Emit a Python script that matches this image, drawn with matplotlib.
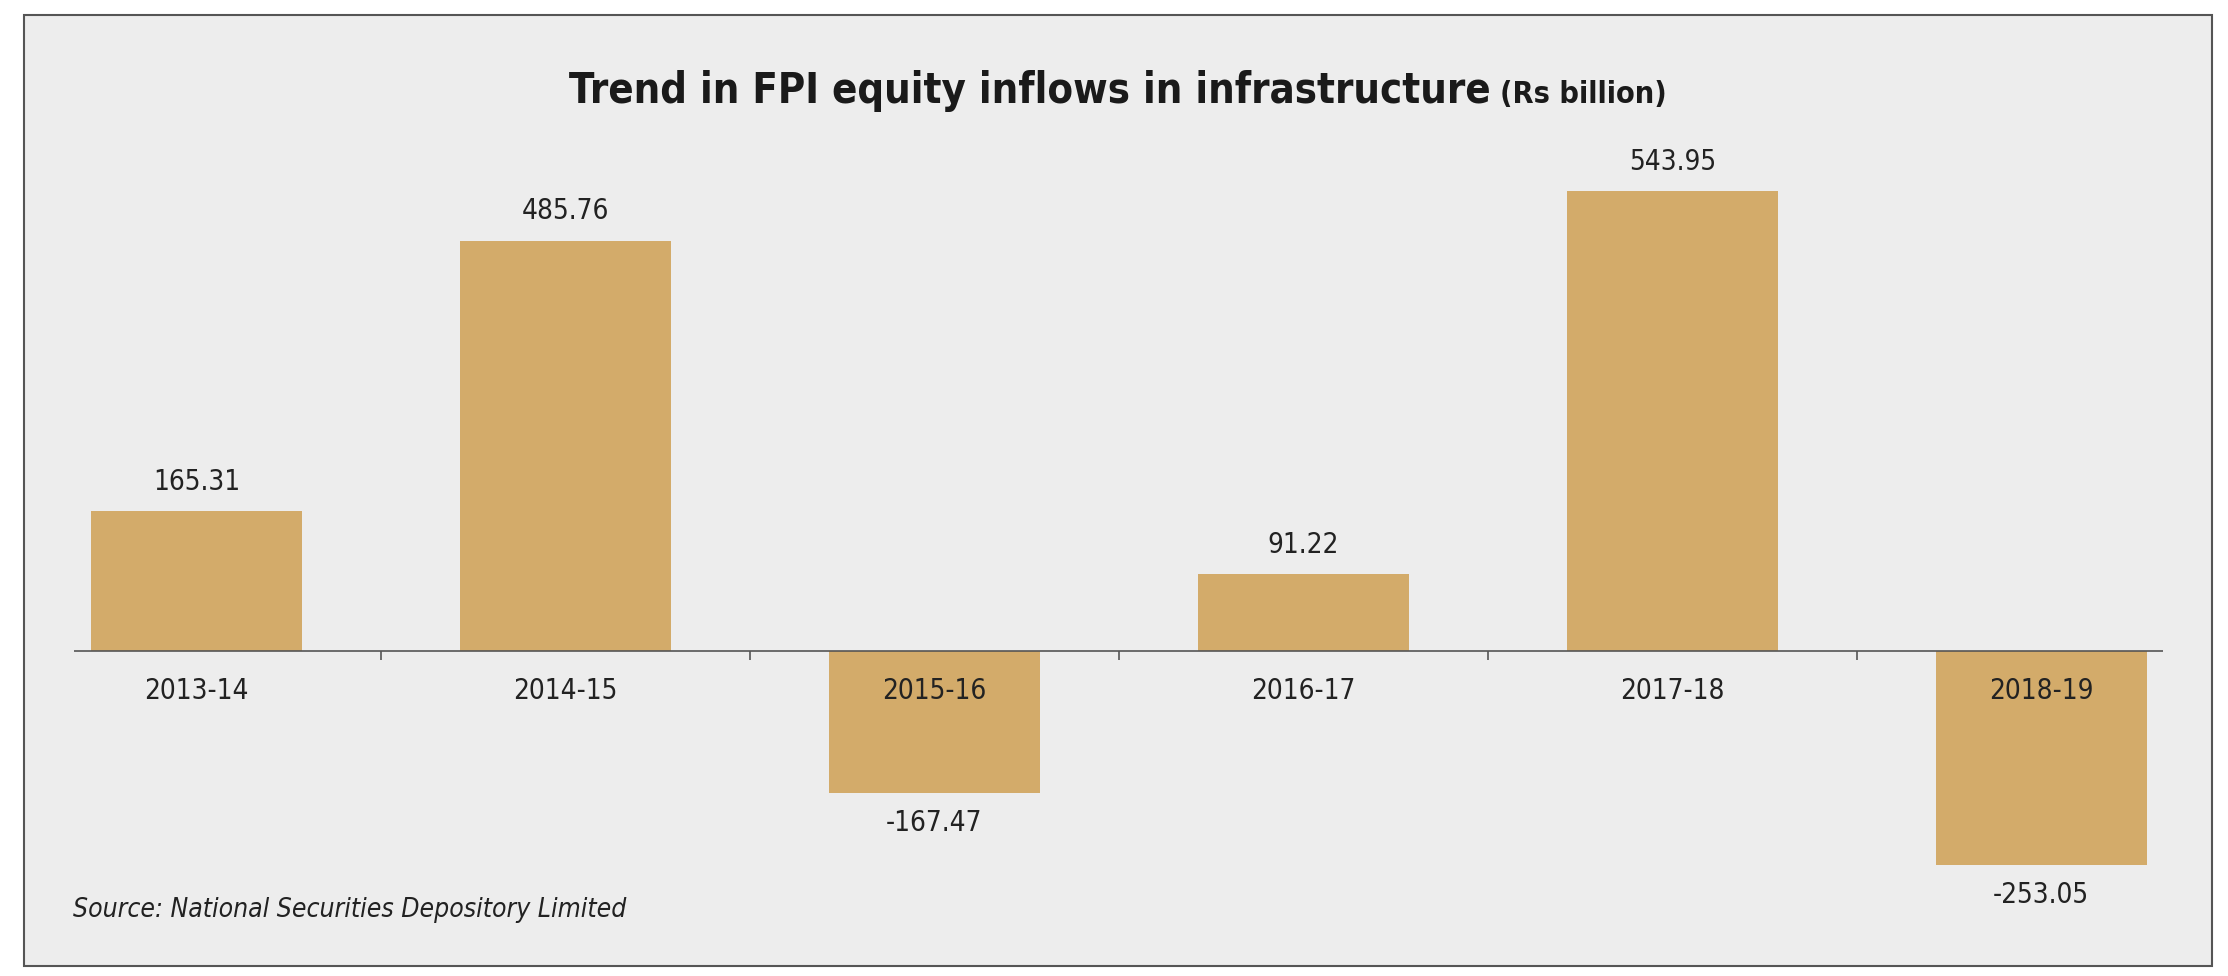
import matplotlib.pyplot as plt
from matplotlib.patches import Rectangle

years = ["2013-14", "2014-15", "2015-16", "2016-17", "2017-18", "2018-19"]
inflows = [165.31, 485.76, -167.47, 91.22, 543.95, -253.05]

title_main = "Trend in FPI equity inflows in infrastructure"
title_unit = "(Rs billion)"
source_note = "Source: National Securities Depository Limited"

W, H = 2228, 976
bar_color = "#D3AB6A"
bg_color = "#EDEDED"
narrow = ["DejaVu Sans"]

fig = plt.figure(figsize=(W / 100, H / 100), dpi=100)
fig.patch.set_facecolor("white")

# grey panel with a dark border
fig.patches.append(Rectangle((24 / W, 1 - 966 / H), (2212 - 24) / W, (966 - 15) / H,
                             transform=fig.transFigure, facecolor=bg_color,
                             edgecolor="#555555", linewidth=1.5, zorder=-1))

ax = fig.add_axes([74 / W, 1 - 904.5 / H, (2163 - 74) / W, 760.5 / H])
ax.set_facecolor("none")
ax.set_xlim(-0.332, 5.33)
ax.set_ylim(-300, 600)
for s in ax.spines.values():
    s.set_visible(False)
ax.set_xticks([])
ax.set_yticks([])

x = list(range(len(years)))
ax.bar(x, inflows, width=0.572, color=bar_color, zorder=2)
ax.axhline(0, color="#555555", linewidth=1.2, zorder=3)
ax.vlines([i + 0.5 for i in x[:-1]], -10.6, 0, color="#555555", linewidth=1.2, zorder=3)

for i, (yr, v) in enumerate(zip(years, inflows)):
    ax.annotate(yr, (i, 0), xytext=(0, -29), textcoords="offset points",
                ha="center", va="center", fontsize=20, family=narrow, fontstretch="condensed",
                color="#222222", zorder=4)
    off = 21 if v > 0 else -22
    ax.annotate(f"{v:.2f}", (i, v), xytext=(0, off), textcoords="offset points",
                ha="center", va="center", fontsize=20, family=narrow, fontstretch="condensed",
                color="#222222", zorder=4)

# title in two sizes, centred together on the panel
t1 = fig.text(0, 1 - 103 / H, title_main, fontsize=30, fontweight="heavy",
              family=narrow, fontstretch="condensed", color="#1a1a1a",
              ha="left", va="baseline")
t2 = fig.text(0, 1 - 103 / H, title_unit, fontsize=22, fontweight="heavy",
              family=narrow, fontstretch="condensed", color="#1a1a1a",
              ha="left", va="baseline")
fig.canvas.draw()
r = fig.canvas.get_renderer()
w1 = t1.get_window_extent(r).width
w2 = t2.get_window_extent(r).width
gap = 10
start = 1118 - (w1 + gap + w2) / 2
t1.set_x(start / W)
t2.set_x((start + w1 + gap) / W)

fig.text(73 / W, 1 - 910 / H, source_note, fontsize=19, style="italic",
         family=narrow, fontstretch="condensed", color="#222222",
         ha="left", va="center")

fig.savefig("out.png", dpi=100)
